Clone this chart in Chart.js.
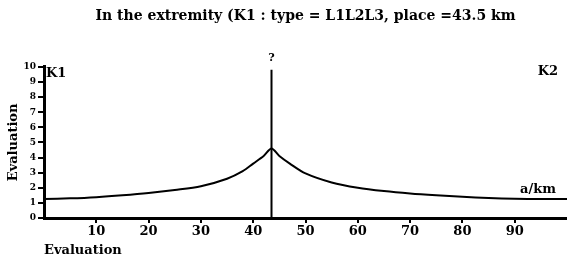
<!DOCTYPE html>
<html lang="en">
<head>
    <meta charset="UTF-8">
    <title>Evaluation</title>
    <script src="https://cdn.jsdelivr.net/npm/chart.js"></script>
    <style>
        html, body { margin: 0; padding: 0; background: #fff; }
        .chart-container { width: 567px; height: 262px; }
    </style>
</head>
<body>
    <div class="chart-container">
        <canvas id="evalChart"></canvas>
    </div>

    <script>
        // curve (km -> evaluation)
        const positions = [0, 5, 10, 15, 20, 25, 30, 35, 38, 40, 42, 43.5, 45, 47, 50, 55, 60, 65, 70, 75, 80, 85, 90, 95, 100];
        const evaluations = [1.25, 1.3, 1.38, 1.5, 1.65, 1.85, 2.1, 2.6, 3.1, 3.6, 4.1, 4.6, 4.1, 3.6, 2.95, 2.35, 2.0, 1.78, 1.62, 1.5, 1.4, 1.32, 1.27, 1.25, 1.25];
        const placeKm = 43.5;
        const markerTop = 9.8;
        const xTicks = [10, 20, 30, 40, 50, 60, 70, 80, 90];
        const yTicks = [0, 1, 2, 3, 4, 5, 6, 7, 8, 9, 10];

        const serif = 'DejaVu Serif, serif';

        const curve = positions.map((x, i) => ({ x: x, y: evaluations[i] }));
        const marker = [{ x: placeKm, y: 0 }, { x: placeKm, y: markerTop }];

        const labelsPlugin = {
            id: 'labels',
            afterDraw(chart) {
                const { ctx, chartArea, scales } = chart;
                ctx.save();
                ctx.fillStyle = '#000';
                ctx.font = 'bold 13px ' + serif;
                ctx.textBaseline = 'top';
                ctx.textAlign = 'left';
                ctx.fillText('K1', chartArea.left + 2, chartArea.top);
                ctx.textAlign = 'right';
                ctx.fillText('K2', chartArea.right - 9, chartArea.top - 2);
                ctx.textBaseline = 'bottom';
                ctx.fillText('a/km', chartArea.right - 11, scales.y.getPixelForValue(evaluations[evaluations.length - 1]) - 3);
                ctx.textAlign = 'center';
                ctx.font = 'bold 11px ' + serif;
                ctx.fillText('?', scales.x.getPixelForValue(placeKm), scales.y.getPixelForValue(markerTop) - 6);
                ctx.restore();
            }
        };

        new Chart(document.getElementById('evalChart'), {
            type: 'scatter',
            data: {
                datasets: [{
                    data: curve,
                    showLine: true,
                    borderColor: '#000',
                    borderWidth: 2,
                    pointRadius: 0,
                    tension: 0.3
                }, {
                    data: marker,
                    showLine: true,
                    borderColor: '#000',
                    borderWidth: 2,
                    pointRadius: 0
                }]
            },
            options: {
                responsive: true,
                maintainAspectRatio: false,
                animation: false,
                layout: { padding: { left: 0, right: 0, top: 0, bottom: 0 } },
                plugins: {
                    legend: { display: false },
                    tooltip: { enabled: false },
                    title: {
                        display: true,
                        fullSize: false,
                        text: 'In the extremity (K1 : type = L1L2L3, place =43.5 km',
                        color: '#000',
                        font: { family: serif, size: 14, weight: 'bold' },
                        padding: { top: 8, bottom: 42 }
                    }
                },
                scales: {
                    x: {
                        type: 'linear',
                        min: 0,
                        max: 100,
                        afterBuildTicks: axis => { axis.ticks = xTicks.map(v => ({ value: v })); },
                        afterFit: axis => { axis.height = 44; },
                        border: { color: '#000', width: 3 },
                        grid: { drawOnChartArea: false, drawTicks: true, tickLength: 5, color: '#000', lineWidth: 2 },
                        ticks: { color: '#000', padding: 1, maxRotation: 0, font: { family: serif, size: 13, weight: 'bold' } },
                        title: {
                            display: true,
                            align: 'start',
                            text: 'Evaluation',
                            color: '#000',
                            padding: { top: 0, bottom: 4 },
                            font: { family: serif, size: 13, weight: 'bold' }
                        }
                    },
                    y: {
                        min: 0,
                        max: 10,
                        afterBuildTicks: axis => { axis.ticks = yTicks.map(v => ({ value: v })); },
                        afterFit: axis => { axis.width = 44; },
                        border: { color: '#000', width: 3 },
                        grid: { drawOnChartArea: false, drawTicks: true, tickLength: 6, color: '#000', lineWidth: 2 },
                        ticks: { color: '#000', padding: 2, font: { family: serif, size: 9, weight: 'bold' } },
                        title: {
                            display: true,
                            text: 'Evaluation',
                            color: '#000',
                            padding: { top: 6, bottom: 0 },
                            font: { family: serif, size: 13, weight: 'bold' }
                        }
                    }
                }
            },
            plugins: [labelsPlugin]
        });
    </script>
</body>
</html>
